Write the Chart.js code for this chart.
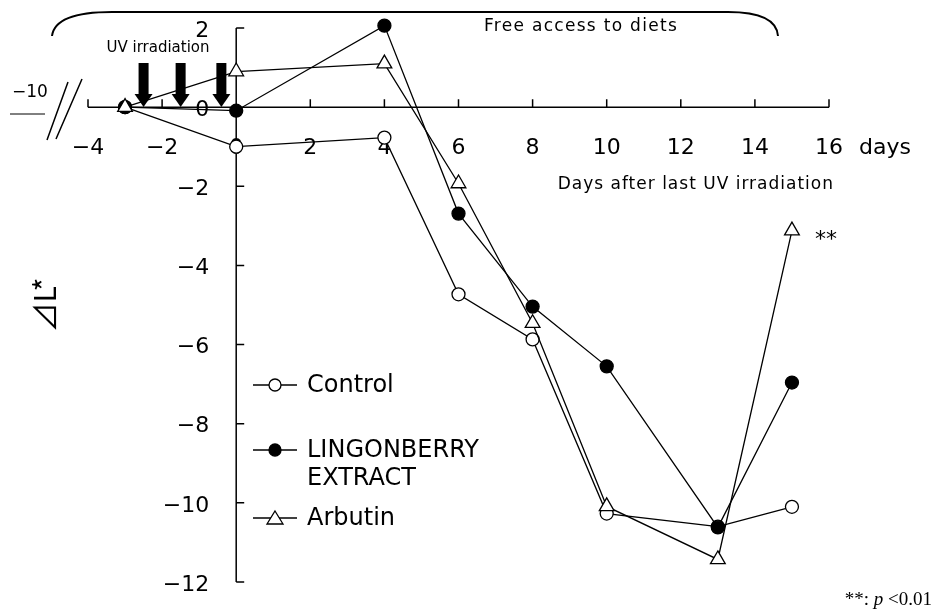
<!DOCTYPE html>
<html>
<head>
<meta charset="utf-8">
<script src="https://cdn.jsdelivr.net/npm/chart.js@4.4.0/dist/chart.umd.min.js"></script>
<style>
  html, body { margin: 0; padding: 0; background: #fff; }
  #wrap { width: 936px; height: 611px; }
</style>
</head>
<body>
<div id="wrap"><canvas id="myChart" width="936" height="611"></canvas></div>
<script>
// days after last UV irradiation
const days = [-3, 0, 4, 6, 8, 10, 13, 15];
// ⊿L* values
const control = [0, -1.0, -0.77, -4.73, -5.87, -10.27, -10.6, -10.1];
const lingonberry = [0, -0.09, 2.06, -2.69, -5.04, -6.55, -10.62, -6.96];
const arbutin = [0, 0.9, 1.1, -1.93, -5.46, -10.09, -11.43, -3.12];

const xTicks = [-4, -2, 0, 2, 4, 6, 8, 10, 12, 14, 16];
const yTicks = [2, 0, -2, -4, -6, -8, -10, -12];
const uvDays = [-2.5, -1.5, -0.4];
const legendLines = [['Control'], ['LINGONBERRY', 'EXTRACT'], ['Arbutin']];

const SANS = '"DejaVu Sans", Arial, sans-serif';
const SERIF = '"Liberation Serif", "Times New Roman", serif';
const minus = s => String(s).replace('-', '\u2212');

function pts(vals) {
  return days.map((d, i) => ({ x: d, y: vals[i] }));
}

// axes crossing at (0,0), drawn by hand
const axesPlugin = {
  id: 'axes',
  beforeDatasetsDraw(chart) {
    const { ctx, scales: { x, y } } = chart;
    const x0 = x.getPixelForValue(0), y0 = y.getPixelForValue(0);
    ctx.save();
    ctx.strokeStyle = '#000';
    ctx.lineWidth = 1.5;
    ctx.beginPath();
    ctx.moveTo(x.getPixelForValue(xTicks[0]), y0);
    ctx.lineTo(x.getPixelForValue(xTicks[xTicks.length - 1]), y0);
    xTicks.forEach(v => {
      const px = x.getPixelForValue(v);
      ctx.moveTo(px, y0); ctx.lineTo(px, y0 - 8);
    });
    ctx.moveTo(x0, y.getPixelForValue(yTicks[0]));
    ctx.lineTo(x0, y.getPixelForValue(yTicks[yTicks.length - 1]));
    yTicks.forEach(v => {
      const py = y.getPixelForValue(v);
      ctx.moveTo(x0, py); ctx.lineTo(x0 + 8, py);
    });
    ctx.stroke();

    ctx.fillStyle = '#000';
    ctx.font = '22px ' + SANS;
    ctx.textAlign = 'center';
    ctx.textBaseline = 'middle';
    xTicks.forEach(v => ctx.fillText(minus(v), x.getPixelForValue(v), y0 + 41));
    ctx.textAlign = 'left';
    ctx.fillText('days', x.getPixelForValue(16) + 30, y0 + 41);
    ctx.textAlign = 'right';
    yTicks.forEach(v => ctx.fillText(minus(v), x0 - 27, y.getPixelForValue(v) + 3));

    // y title
    ctx.save();
    ctx.translate(45, 305);
    ctx.rotate(-Math.PI / 2);
    ctx.textAlign = 'center';
    ctx.font = '30px "Noto Sans CJK JP", ' + SANS;
    ctx.fillText('\u22BFL*', 0, 0);
    ctx.restore();

    // axis break on the left
    ctx.font = '17px ' + SANS;
    ctx.textAlign = 'center';
    ctx.fillText('\u221210', 30, 93);
    ctx.lineWidth = 1;
    ctx.beginPath();
    ctx.moveTo(10, 114); ctx.lineTo(45, 114);
    ctx.stroke();
    ctx.lineWidth = 1.5;
    ctx.beginPath();
    ctx.moveTo(68, 82); ctx.lineTo(47, 140);
    ctx.moveTo(82, 79); ctx.lineTo(56, 139);
    ctx.stroke();
    ctx.restore();
  },
  afterDatasetsDraw(chart) {
    const { ctx, scales: { x, y } } = chart;
    ctx.save();
    ctx.fillStyle = '#000';
    ctx.strokeStyle = '#000';

    // UV irradiation arrows
    uvDays.forEach(d => {
      const px = x.getPixelForValue(d);
      ctx.fillRect(px - 5, 63, 10, 33);
      ctx.beginPath();
      ctx.moveTo(px - 9, 94); ctx.lineTo(px + 9, 94); ctx.lineTo(px, 107);
      ctx.closePath();
      ctx.fill();
    });
    ctx.font = '15px ' + SANS;
    ctx.textAlign = 'center';
    ctx.textBaseline = 'middle';
    ctx.fillText('UV irradiation', 158, 48);

    // brace over the feeding period
    ctx.lineWidth = 2;
    ctx.beginPath();
    ctx.moveTo(52, 36);
    ctx.bezierCurveTo(54, 20, 75, 12, 112, 12);
    ctx.lineTo(728, 12);
    ctx.bezierCurveTo(765, 12, 777, 22, 778, 36);
    ctx.stroke();

    ctx.letterSpacing = '1.3px';
    ctx.font = '17px ' + SANS;
    ctx.fillText('Free access to diets', 581, 27);

    ctx.textAlign = 'right';
    ctx.letterSpacing = '1px';
    ctx.font = '17px ' + SANS;
    ctx.fillText('Days after last UV irradiation', 834, 185);
    ctx.letterSpacing = '0px';

    ctx.textAlign = 'left';
    ctx.font = '22px ' + SANS;
    ctx.fillText('**', 815, 240);

    ctx.font = '19px ' + SERIF;
    ctx.textAlign = 'right';
    ctx.fillText('<0.01', 932, 600);
    const w = ctx.measureText('<0.01').width;
    ctx.font = 'italic 19px ' + SERIF;
    ctx.fillText('p ', 932 - w, 600);
    const w2 = ctx.measureText('p ').width;
    ctx.font = '19px ' + SERIF;
    ctx.fillText('**: ', 932 - w - w2, 600);

    // legend
    const rows = [385, 450, 518];
    chart.data.datasets.forEach((ds, i) => {
      const ly = rows[i];
      ctx.lineWidth = 1.5;
      ctx.beginPath();
      ctx.moveTo(253, ly); ctx.lineTo(297, ly);
      ctx.stroke();
      ctx.fillStyle = ds.pointBackgroundColor;
      ctx.lineWidth = 1.3;
      ctx.beginPath();
      if (ds.pointStyle === 'triangle') {
        ctx.moveTo(275, ly - 7); ctx.lineTo(283, ly + 6); ctx.lineTo(267, ly + 6);
        ctx.closePath();
      } else {
        ctx.arc(275, ly, 6, 0, Math.PI * 2);
      }
      ctx.fill();
      ctx.stroke();
      ctx.fillStyle = '#000';
      ctx.font = '24px ' + SANS;
      ctx.textAlign = 'left';
      legendLines[i].forEach((t, k) => ctx.fillText(t, 307, ly + 1 + k * 28));
    });
    ctx.restore();
  }
};

const common = {
  borderColor: '#000',
  borderWidth: 1.3,
  pointBorderColor: '#000',
  pointBorderWidth: 1.3,
  tension: 0,
  clip: false,
  showLine: true
};

new Chart(document.getElementById('myChart').getContext('2d'), {
  type: 'line',
  data: {
    datasets: [
      Object.assign({ label: 'Control', data: pts(control), pointStyle: 'circle',
        pointRadius: 6.5, pointBackgroundColor: '#fff', order: 3 }, common),
      Object.assign({ label: 'LINGONBERRY EXTRACT', data: pts(lingonberry), pointStyle: 'circle',
        pointRadius: 6.5, pointBackgroundColor: '#000', order: 2 }, common),
      Object.assign({ label: 'Arbutin', data: pts(arbutin), pointStyle: 'triangle',
        pointRadius: 8.5, pointBackgroundColor: '#fff', order: 1 }, common)
    ]
  },
  options: {
    responsive: false,
    animation: false,
    layout: { padding: { left: 88, right: 107, top: 28, bottom: 29 } },
    scales: {
      x: { type: 'linear', min: -4, max: 16, display: false },
      y: { type: 'linear', min: -12, max: 2, display: false }
    },
    plugins: { legend: { display: false }, tooltip: { enabled: false } }
  },
  plugins: [axesPlugin]
});
</script>
</body>
</html>
